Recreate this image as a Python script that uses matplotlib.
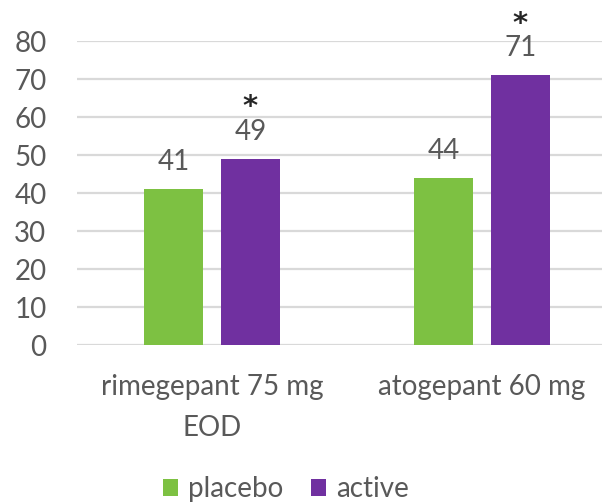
import matplotlib
matplotlib.use("Agg")
import matplotlib.pyplot as plt
from matplotlib.patches import Patch
import numpy as np

categories = ["rimegepant 75 mg\nEOD", "atogepant 60 mg"]
series_names = ["placebo", "active"]
placebo = [41, 44]
active = [49, 71]
significant = [True, True]
y_ticks = [0, 10, 20, 30, 40, 50, 60, 70, 80]

GREEN = "#7DC142"
PURPLE = "#7030A0"
GRID = "#D9D9D9"
TEXT = "#595959"

plt.rcParams["font.family"] = ["Lato", "DejaVu Sans"]

fig = plt.figure(figsize=(6.02, 5.04), dpi=100)
ax = fig.add_axes([77 / 602, 159 / 504, 540 / 602, 304 / 504])

x = np.arange(len(categories))
width = 0.222
offset = 0.1426
b1 = ax.bar(x - offset, placebo, width, color=GREEN, zorder=3)
b2 = ax.bar(x + offset, active, width, color=PURPLE, zorder=3)

fs = 20
for rect, v in zip(b1, placebo):
    ax.annotate(f"{v}", (rect.get_x() + rect.get_width() / 2, v),
                xytext=(0, 10), textcoords="offset points",
                ha="center", va="bottom", fontsize=fs, color=TEXT,
                annotation_clip=False)
for rect, v, sig in zip(b2, active, significant):
    cx = rect.get_x() + rect.get_width() / 2
    ax.annotate(f"{v}", (cx, v), xytext=(0, 10), textcoords="offset points",
                ha="center", va="bottom", fontsize=fs, color=TEXT,
                annotation_clip=False)
    if sig:
        ax.annotate("*", (cx, v), xytext=(0, 27), textcoords="offset points",
                    ha="center", va="bottom", fontsize=21, color="#262626",
                    family="DejaVu Sans", fontweight="bold",
                    annotation_clip=False)

ax.set_xlim(-0.5, 1.5)
ax.set_ylim(0, 80)
ax.set_yticks(y_ticks)
ax.yaxis.grid(True, color=GRID, linewidth=1.6, zorder=0)
ax.set_axisbelow(True)
ax.set_xticks(x)
ax.set_xticklabels(categories, fontsize=fs, color=TEXT, linespacing=1.7)
ax.tick_params(axis="x", length=0, pad=21)
ax.tick_params(axis="y", length=0, pad=22, labelsize=fs, labelcolor=TEXT)
for s in ax.spines.values():
    s.set_visible(False)

handles = [Patch(facecolor=GREEN, label=series_names[0]),
           Patch(facecolor=PURPLE, label=series_names[1])]
leg = fig.legend(handles=handles, loc="center", bbox_to_anchor=(0.475, 15 / 504),
                 ncol=2, frameon=False, fontsize=fs, labelcolor=TEXT,
                 handlelength=0.55, handleheight=0.55, handletextpad=0.35,
                 columnspacing=1.0)

fig.savefig("out.png", dpi=100)
